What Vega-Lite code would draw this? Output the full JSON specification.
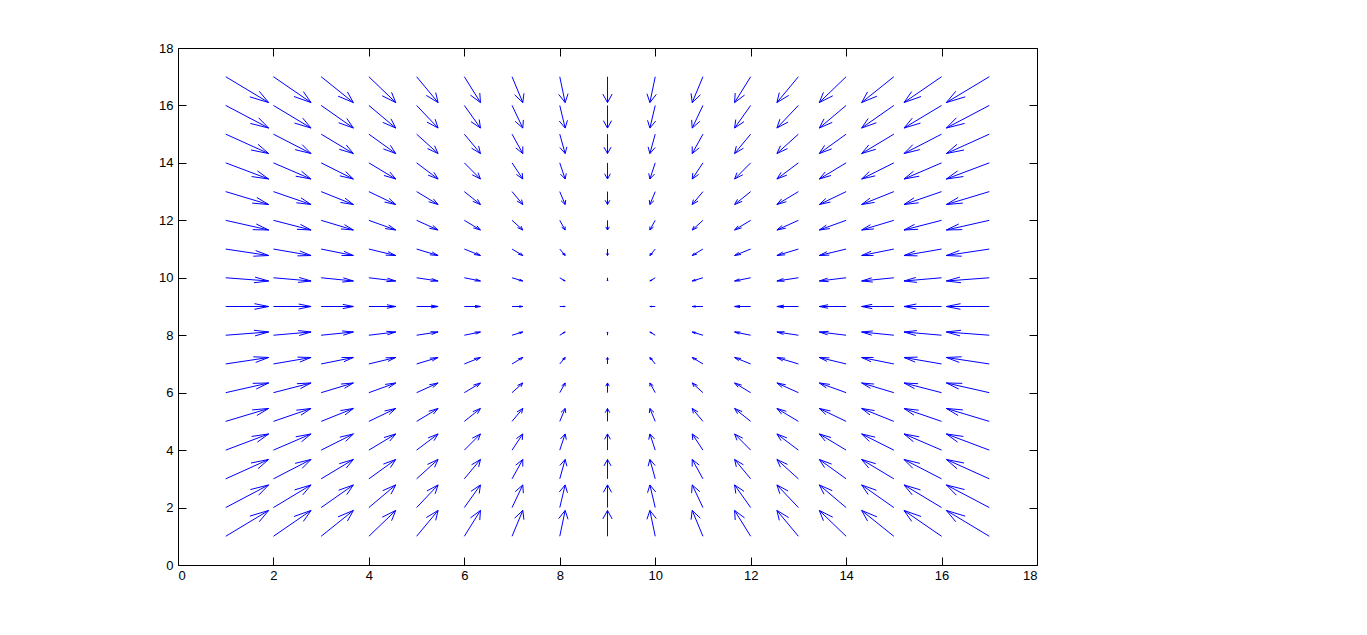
{
"$schema": "https://vega.github.io/schema/vega-lite/v6.json",
"width": 859, "height": 517,
"autosize": {"type": "none"},
"padding": {"left": 178, "top": 48, "right": 330, "bottom": 70},
"background": "white",
"config": {"view": {"stroke": null}, "font": "Liberation Sans",
 "axis": {"domainColor": "black", "domainWidth": 1, "tickColor": "black", "tickSize": -8, "tickWidth": 1, "labelColor": "black", "labelFont": "Liberation Sans", "labelFontSize": 13, "grid": false, "title": null},
 "axisX": {"labelPadding": 12}, "axisY": {"labelPadding": 13}},
"data": {"values": [
{"x":1,"y":1,"tx":1.9,"ty":1.9,"lx":1.505,"ly":1.701,"rx":1.701,"ry":1.505},
{"x":2,"y":1,"tx":2.788,"ty":1.9,"lx":2.43,"ly":1.689,"rx":2.626,"ry":1.517},
{"x":3,"y":1,"tx":3.675,"ty":1.9,"lx":3.354,"ly":1.677,"rx":3.55,"ry":1.529},
{"x":4,"y":1,"tx":4.563,"ty":1.9,"lx":4.279,"ly":1.664,"rx":4.475,"ry":1.542},
{"x":5,"y":1,"tx":5.45,"ty":1.9,"lx":5.204,"ly":1.652,"rx":5.4,"ry":1.554},
{"x":6,"y":1,"tx":6.338,"ty":1.9,"lx":6.128,"ly":1.64,"rx":6.324,"ry":1.566},
{"x":7,"y":1,"tx":7.225,"ty":1.9,"lx":7.053,"ly":1.628,"rx":7.249,"ry":1.578},
{"x":8,"y":1,"tx":8.113,"ty":1.9,"lx":7.977,"ly":1.615,"rx":8.173,"ry":1.591},
{"x":9,"y":1,"tx":9,"ty":1.9,"lx":8.902,"ly":1.603,"rx":9.098,"ry":1.603},
{"x":10,"y":1,"tx":9.888,"ty":1.9,"lx":9.827,"ly":1.591,"rx":10.023,"ry":1.615},
{"x":11,"y":1,"tx":10.775,"ty":1.9,"lx":10.751,"ly":1.578,"rx":10.947,"ry":1.628},
{"x":12,"y":1,"tx":11.663,"ty":1.9,"lx":11.676,"ly":1.566,"rx":11.872,"ry":1.64},
{"x":13,"y":1,"tx":12.55,"ty":1.9,"lx":12.6,"ly":1.554,"rx":12.796,"ry":1.652},
{"x":14,"y":1,"tx":13.438,"ty":1.9,"lx":13.525,"ly":1.542,"rx":13.721,"ry":1.664},
{"x":15,"y":1,"tx":14.325,"ty":1.9,"lx":14.45,"ly":1.529,"rx":14.646,"ry":1.677},
{"x":16,"y":1,"tx":15.213,"ty":1.9,"lx":15.374,"ly":1.517,"rx":15.57,"ry":1.689},
{"x":17,"y":1,"tx":16.1,"ty":1.9,"lx":16.299,"ly":1.505,"rx":16.495,"ry":1.701},
{"x":1,"y":2,"tx":1.9,"ty":2.788,"lx":1.517,"ly":2.626,"rx":1.689,"ry":2.43},
{"x":2,"y":2,"tx":2.788,"ty":2.788,"lx":2.442,"ly":2.614,"rx":2.614,"ry":2.442},
{"x":3,"y":2,"tx":3.675,"ty":2.788,"lx":3.366,"ly":2.602,"rx":3.538,"ry":2.454},
{"x":4,"y":2,"tx":4.563,"ty":2.788,"lx":4.291,"ly":2.589,"rx":4.463,"ry":2.467},
{"x":5,"y":2,"tx":5.45,"ty":2.788,"lx":5.216,"ly":2.577,"rx":5.388,"ry":2.479},
{"x":6,"y":2,"tx":6.338,"ty":2.788,"lx":6.14,"ly":2.565,"rx":6.312,"ry":2.491},
{"x":7,"y":2,"tx":7.225,"ty":2.788,"lx":7.065,"ly":2.553,"rx":7.237,"ry":2.503},
{"x":8,"y":2,"tx":8.113,"ty":2.788,"lx":7.989,"ly":2.54,"rx":8.161,"ry":2.516},
{"x":9,"y":2,"tx":9,"ty":2.788,"lx":8.914,"ly":2.528,"rx":9.086,"ry":2.528},
{"x":10,"y":2,"tx":9.888,"ty":2.788,"lx":9.839,"ly":2.516,"rx":10.011,"ry":2.54},
{"x":11,"y":2,"tx":10.775,"ty":2.788,"lx":10.763,"ly":2.503,"rx":10.935,"ry":2.553},
{"x":12,"y":2,"tx":11.663,"ty":2.788,"lx":11.688,"ly":2.491,"rx":11.86,"ry":2.565},
{"x":13,"y":2,"tx":12.55,"ty":2.788,"lx":12.612,"ly":2.479,"rx":12.784,"ry":2.577},
{"x":14,"y":2,"tx":13.438,"ty":2.788,"lx":13.537,"ly":2.467,"rx":13.709,"ry":2.589},
{"x":15,"y":2,"tx":14.325,"ty":2.788,"lx":14.462,"ly":2.454,"rx":14.634,"ry":2.602},
{"x":16,"y":2,"tx":15.213,"ty":2.788,"lx":15.386,"ly":2.442,"rx":15.558,"ry":2.614},
{"x":17,"y":2,"tx":16.1,"ty":2.788,"lx":16.311,"ly":2.43,"rx":16.483,"ry":2.626},
{"x":1,"y":3,"tx":1.9,"ty":3.675,"lx":1.529,"ly":3.55,"rx":1.677,"ry":3.354},
{"x":2,"y":3,"tx":2.788,"ty":3.675,"lx":2.454,"ly":3.538,"rx":2.602,"ry":3.366},
{"x":3,"y":3,"tx":3.675,"ty":3.675,"lx":3.378,"ly":3.526,"rx":3.526,"ry":3.378},
{"x":4,"y":3,"tx":4.563,"ty":3.675,"lx":4.303,"ly":3.513,"rx":4.451,"ry":3.391},
{"x":5,"y":3,"tx":5.45,"ty":3.675,"lx":5.228,"ly":3.501,"rx":5.376,"ry":3.403},
{"x":6,"y":3,"tx":6.338,"ty":3.675,"lx":6.152,"ly":3.489,"rx":6.3,"ry":3.415},
{"x":7,"y":3,"tx":7.225,"ty":3.675,"lx":7.077,"ly":3.477,"rx":7.225,"ry":3.427},
{"x":8,"y":3,"tx":8.113,"ty":3.675,"lx":8.001,"ly":3.464,"rx":8.149,"ry":3.44},
{"x":9,"y":3,"tx":9,"ty":3.675,"lx":8.926,"ly":3.452,"rx":9.074,"ry":3.452},
{"x":10,"y":3,"tx":9.888,"ty":3.675,"lx":9.851,"ly":3.44,"rx":9.999,"ry":3.464},
{"x":11,"y":3,"tx":10.775,"ty":3.675,"lx":10.775,"ly":3.427,"rx":10.923,"ry":3.477},
{"x":12,"y":3,"tx":11.663,"ty":3.675,"lx":11.7,"ly":3.415,"rx":11.848,"ry":3.489},
{"x":13,"y":3,"tx":12.55,"ty":3.675,"lx":12.624,"ly":3.403,"rx":12.772,"ry":3.501},
{"x":14,"y":3,"tx":13.438,"ty":3.675,"lx":13.549,"ly":3.391,"rx":13.697,"ry":3.513},
{"x":15,"y":3,"tx":14.325,"ty":3.675,"lx":14.474,"ly":3.378,"rx":14.622,"ry":3.526},
{"x":16,"y":3,"tx":15.213,"ty":3.675,"lx":15.398,"ly":3.366,"rx":15.546,"ry":3.538},
{"x":17,"y":3,"tx":16.1,"ty":3.675,"lx":16.323,"ly":3.354,"rx":16.471,"ry":3.55},
{"x":1,"y":4,"tx":1.9,"ty":4.563,"lx":1.542,"ly":4.475,"rx":1.664,"ry":4.279},
{"x":2,"y":4,"tx":2.788,"ty":4.563,"lx":2.467,"ly":4.463,"rx":2.589,"ry":4.291},
{"x":3,"y":4,"tx":3.675,"ty":4.563,"lx":3.391,"ly":4.451,"rx":3.513,"ry":4.303},
{"x":4,"y":4,"tx":4.563,"ty":4.563,"lx":4.316,"ly":4.438,"rx":4.438,"ry":4.316},
{"x":5,"y":4,"tx":5.45,"ty":4.563,"lx":5.241,"ly":4.426,"rx":5.363,"ry":4.328},
{"x":6,"y":4,"tx":6.338,"ty":4.563,"lx":6.165,"ly":4.414,"rx":6.287,"ry":4.34},
{"x":7,"y":4,"tx":7.225,"ty":4.563,"lx":7.09,"ly":4.402,"rx":7.212,"ry":4.352},
{"x":8,"y":4,"tx":8.113,"ty":4.563,"lx":8.014,"ly":4.389,"rx":8.136,"ry":4.365},
{"x":9,"y":4,"tx":9,"ty":4.563,"lx":8.939,"ly":4.377,"rx":9.061,"ry":4.377},
{"x":10,"y":4,"tx":9.888,"ty":4.563,"lx":9.864,"ly":4.365,"rx":9.986,"ry":4.389},
{"x":11,"y":4,"tx":10.775,"ty":4.563,"lx":10.788,"ly":4.352,"rx":10.91,"ry":4.402},
{"x":12,"y":4,"tx":11.663,"ty":4.563,"lx":11.713,"ly":4.34,"rx":11.835,"ry":4.414},
{"x":13,"y":4,"tx":12.55,"ty":4.563,"lx":12.637,"ly":4.328,"rx":12.759,"ry":4.426},
{"x":14,"y":4,"tx":13.438,"ty":4.563,"lx":13.562,"ly":4.316,"rx":13.684,"ry":4.438},
{"x":15,"y":4,"tx":14.325,"ty":4.563,"lx":14.487,"ly":4.303,"rx":14.609,"ry":4.451},
{"x":16,"y":4,"tx":15.213,"ty":4.563,"lx":15.411,"ly":4.291,"rx":15.533,"ry":4.463},
{"x":17,"y":4,"tx":16.1,"ty":4.563,"lx":16.336,"ly":4.279,"rx":16.458,"ry":4.475},
{"x":1,"y":5,"tx":1.9,"ty":5.45,"lx":1.554,"ly":5.4,"rx":1.652,"ry":5.204},
{"x":2,"y":5,"tx":2.788,"ty":5.45,"lx":2.479,"ly":5.388,"rx":2.577,"ry":5.216},
{"x":3,"y":5,"tx":3.675,"ty":5.45,"lx":3.403,"ly":5.376,"rx":3.501,"ry":5.228},
{"x":4,"y":5,"tx":4.563,"ty":5.45,"lx":4.328,"ly":5.363,"rx":4.426,"ry":5.241},
{"x":5,"y":5,"tx":5.45,"ty":5.45,"lx":5.253,"ly":5.351,"rx":5.351,"ry":5.253},
{"x":6,"y":5,"tx":6.338,"ty":5.45,"lx":6.177,"ly":5.339,"rx":6.275,"ry":5.265},
{"x":7,"y":5,"tx":7.225,"ty":5.45,"lx":7.102,"ly":5.327,"rx":7.2,"ry":5.277},
{"x":8,"y":5,"tx":8.113,"ty":5.45,"lx":8.026,"ly":5.314,"rx":8.124,"ry":5.29},
{"x":9,"y":5,"tx":9,"ty":5.45,"lx":8.951,"ly":5.302,"rx":9.049,"ry":5.302},
{"x":10,"y":5,"tx":9.888,"ty":5.45,"lx":9.876,"ly":5.29,"rx":9.974,"ry":5.314},
{"x":11,"y":5,"tx":10.775,"ty":5.45,"lx":10.8,"ly":5.277,"rx":10.898,"ry":5.327},
{"x":12,"y":5,"tx":11.663,"ty":5.45,"lx":11.725,"ly":5.265,"rx":11.823,"ry":5.339},
{"x":13,"y":5,"tx":12.55,"ty":5.45,"lx":12.649,"ly":5.253,"rx":12.747,"ry":5.351},
{"x":14,"y":5,"tx":13.438,"ty":5.45,"lx":13.574,"ly":5.241,"rx":13.672,"ry":5.363},
{"x":15,"y":5,"tx":14.325,"ty":5.45,"lx":14.499,"ly":5.228,"rx":14.597,"ry":5.376},
{"x":16,"y":5,"tx":15.213,"ty":5.45,"lx":15.423,"ly":5.216,"rx":15.521,"ry":5.388},
{"x":17,"y":5,"tx":16.1,"ty":5.45,"lx":16.348,"ly":5.204,"rx":16.446,"ry":5.4},
{"x":1,"y":6,"tx":1.9,"ty":6.338,"lx":1.566,"ly":6.324,"rx":1.64,"ry":6.128},
{"x":2,"y":6,"tx":2.788,"ty":6.338,"lx":2.491,"ly":6.312,"rx":2.565,"ry":6.14},
{"x":3,"y":6,"tx":3.675,"ty":6.338,"lx":3.415,"ly":6.3,"rx":3.489,"ry":6.152},
{"x":4,"y":6,"tx":4.563,"ty":6.338,"lx":4.34,"ly":6.287,"rx":4.414,"ry":6.165},
{"x":5,"y":6,"tx":5.45,"ty":6.338,"lx":5.265,"ly":6.275,"rx":5.339,"ry":6.177},
{"x":6,"y":6,"tx":6.338,"ty":6.338,"lx":6.189,"ly":6.263,"rx":6.263,"ry":6.189},
{"x":7,"y":6,"tx":7.225,"ty":6.338,"lx":7.114,"ly":6.251,"rx":7.188,"ry":6.201},
{"x":8,"y":6,"tx":8.113,"ty":6.338,"lx":8.038,"ly":6.238,"rx":8.112,"ry":6.214},
{"x":9,"y":6,"tx":9,"ty":6.338,"lx":8.963,"ly":6.226,"rx":9.037,"ry":6.226},
{"x":10,"y":6,"tx":9.888,"ty":6.338,"lx":9.888,"ly":6.214,"rx":9.962,"ry":6.238},
{"x":11,"y":6,"tx":10.775,"ty":6.338,"lx":10.812,"ly":6.201,"rx":10.886,"ry":6.251},
{"x":12,"y":6,"tx":11.663,"ty":6.338,"lx":11.737,"ly":6.189,"rx":11.811,"ry":6.263},
{"x":13,"y":6,"tx":12.55,"ty":6.338,"lx":12.661,"ly":6.177,"rx":12.735,"ry":6.275},
{"x":14,"y":6,"tx":13.438,"ty":6.338,"lx":13.586,"ly":6.165,"rx":13.66,"ry":6.287},
{"x":15,"y":6,"tx":14.325,"ty":6.338,"lx":14.511,"ly":6.152,"rx":14.585,"ry":6.3},
{"x":16,"y":6,"tx":15.213,"ty":6.338,"lx":15.435,"ly":6.14,"rx":15.509,"ry":6.312},
{"x":17,"y":6,"tx":16.1,"ty":6.338,"lx":16.36,"ly":6.128,"rx":16.434,"ry":6.324},
{"x":1,"y":7,"tx":1.9,"ty":7.225,"lx":1.578,"ly":7.249,"rx":1.628,"ry":7.053},
{"x":2,"y":7,"tx":2.788,"ty":7.225,"lx":2.503,"ly":7.237,"rx":2.553,"ry":7.065},
{"x":3,"y":7,"tx":3.675,"ty":7.225,"lx":3.427,"ly":7.225,"rx":3.477,"ry":7.077},
{"x":4,"y":7,"tx":4.563,"ty":7.225,"lx":4.352,"ly":7.212,"rx":4.402,"ry":7.09},
{"x":5,"y":7,"tx":5.45,"ty":7.225,"lx":5.277,"ly":7.2,"rx":5.327,"ry":7.102},
{"x":6,"y":7,"tx":6.338,"ty":7.225,"lx":6.201,"ly":7.188,"rx":6.251,"ry":7.114},
{"x":7,"y":7,"tx":7.225,"ty":7.225,"lx":7.126,"ly":7.176,"rx":7.176,"ry":7.126},
{"x":8,"y":7,"tx":8.113,"ty":7.225,"lx":8.05,"ly":7.163,"rx":8.1,"ry":7.139},
{"x":9,"y":7,"tx":9,"ty":7.225,"lx":8.975,"ly":7.151,"rx":9.025,"ry":7.151},
{"x":10,"y":7,"tx":9.888,"ty":7.225,"lx":9.9,"ly":7.139,"rx":9.95,"ry":7.163},
{"x":11,"y":7,"tx":10.775,"ty":7.225,"lx":10.824,"ly":7.126,"rx":10.874,"ry":7.176},
{"x":12,"y":7,"tx":11.663,"ty":7.225,"lx":11.749,"ly":7.114,"rx":11.799,"ry":7.188},
{"x":13,"y":7,"tx":12.55,"ty":7.225,"lx":12.673,"ly":7.102,"rx":12.723,"ry":7.2},
{"x":14,"y":7,"tx":13.438,"ty":7.225,"lx":13.598,"ly":7.09,"rx":13.648,"ry":7.212},
{"x":15,"y":7,"tx":14.325,"ty":7.225,"lx":14.523,"ly":7.077,"rx":14.573,"ry":7.225},
{"x":16,"y":7,"tx":15.213,"ty":7.225,"lx":15.447,"ly":7.065,"rx":15.497,"ry":7.237},
{"x":17,"y":7,"tx":16.1,"ty":7.225,"lx":16.372,"ly":7.053,"rx":16.422,"ry":7.249},
{"x":1,"y":8,"tx":1.9,"ty":8.113,"lx":1.591,"ly":8.173,"rx":1.615,"ry":7.977},
{"x":2,"y":8,"tx":2.788,"ty":8.113,"lx":2.516,"ly":8.161,"rx":2.54,"ry":7.989},
{"x":3,"y":8,"tx":3.675,"ty":8.113,"lx":3.44,"ly":8.149,"rx":3.464,"ry":8.001},
{"x":4,"y":8,"tx":4.563,"ty":8.113,"lx":4.365,"ly":8.136,"rx":4.389,"ry":8.014},
{"x":5,"y":8,"tx":5.45,"ty":8.113,"lx":5.29,"ly":8.124,"rx":5.314,"ry":8.026},
{"x":6,"y":8,"tx":6.338,"ty":8.113,"lx":6.214,"ly":8.112,"rx":6.238,"ry":8.038},
{"x":7,"y":8,"tx":7.225,"ty":8.113,"lx":7.139,"ly":8.1,"rx":7.163,"ry":8.05},
{"x":8,"y":8,"tx":8.113,"ty":8.113,"lx":8.063,"ly":8.087,"rx":8.087,"ry":8.063},
{"x":9,"y":8,"tx":9,"ty":8.113,"lx":8.988,"ly":8.075,"rx":9.012,"ry":8.075},
{"x":10,"y":8,"tx":9.888,"ty":8.113,"lx":9.913,"ly":8.063,"rx":9.937,"ry":8.087},
{"x":11,"y":8,"tx":10.775,"ty":8.113,"lx":10.837,"ly":8.05,"rx":10.861,"ry":8.1},
{"x":12,"y":8,"tx":11.663,"ty":8.113,"lx":11.762,"ly":8.038,"rx":11.786,"ry":8.112},
{"x":13,"y":8,"tx":12.55,"ty":8.113,"lx":12.686,"ly":8.026,"rx":12.71,"ry":8.124},
{"x":14,"y":8,"tx":13.438,"ty":8.113,"lx":13.611,"ly":8.014,"rx":13.635,"ry":8.136},
{"x":15,"y":8,"tx":14.325,"ty":8.113,"lx":14.536,"ly":8.001,"rx":14.56,"ry":8.149},
{"x":16,"y":8,"tx":15.213,"ty":8.113,"lx":15.46,"ly":7.989,"rx":15.484,"ry":8.161},
{"x":17,"y":8,"tx":16.1,"ty":8.113,"lx":16.385,"ly":7.977,"rx":16.409,"ry":8.173},
{"x":1,"y":9,"tx":1.9,"ty":9,"lx":1.603,"ly":9.098,"rx":1.603,"ry":8.902},
{"x":2,"y":9,"tx":2.788,"ty":9,"lx":2.528,"ly":9.086,"rx":2.528,"ry":8.914},
{"x":3,"y":9,"tx":3.675,"ty":9,"lx":3.452,"ly":9.074,"rx":3.452,"ry":8.926},
{"x":4,"y":9,"tx":4.563,"ty":9,"lx":4.377,"ly":9.061,"rx":4.377,"ry":8.939},
{"x":5,"y":9,"tx":5.45,"ty":9,"lx":5.302,"ly":9.049,"rx":5.302,"ry":8.951},
{"x":6,"y":9,"tx":6.338,"ty":9,"lx":6.226,"ly":9.037,"rx":6.226,"ry":8.963},
{"x":7,"y":9,"tx":7.225,"ty":9,"lx":7.151,"ly":9.025,"rx":7.151,"ry":8.975},
{"x":8,"y":9,"tx":8.113,"ty":9,"lx":8.075,"ly":9.012,"rx":8.075,"ry":8.988},
{"x":9,"y":9,"tx":9,"ty":9,"lx":9,"ly":9,"rx":9,"ry":9},
{"x":10,"y":9,"tx":9.888,"ty":9,"lx":9.925,"ly":8.988,"rx":9.925,"ry":9.012},
{"x":11,"y":9,"tx":10.775,"ty":9,"lx":10.849,"ly":8.975,"rx":10.849,"ry":9.025},
{"x":12,"y":9,"tx":11.663,"ty":9,"lx":11.774,"ly":8.963,"rx":11.774,"ry":9.037},
{"x":13,"y":9,"tx":12.55,"ty":9,"lx":12.698,"ly":8.951,"rx":12.698,"ry":9.049},
{"x":14,"y":9,"tx":13.438,"ty":9,"lx":13.623,"ly":8.939,"rx":13.623,"ry":9.061},
{"x":15,"y":9,"tx":14.325,"ty":9,"lx":14.548,"ly":8.926,"rx":14.548,"ry":9.074},
{"x":16,"y":9,"tx":15.213,"ty":9,"lx":15.472,"ly":8.914,"rx":15.472,"ry":9.086},
{"x":17,"y":9,"tx":16.1,"ty":9,"lx":16.397,"ly":8.902,"rx":16.397,"ry":9.098},
{"x":1,"y":10,"tx":1.9,"ty":9.888,"lx":1.615,"ly":10.023,"rx":1.591,"ry":9.827},
{"x":2,"y":10,"tx":2.788,"ty":9.888,"lx":2.54,"ly":10.011,"rx":2.516,"ry":9.839},
{"x":3,"y":10,"tx":3.675,"ty":9.888,"lx":3.464,"ly":9.999,"rx":3.44,"ry":9.851},
{"x":4,"y":10,"tx":4.563,"ty":9.888,"lx":4.389,"ly":9.986,"rx":4.365,"ry":9.864},
{"x":5,"y":10,"tx":5.45,"ty":9.888,"lx":5.314,"ly":9.974,"rx":5.29,"ry":9.876},
{"x":6,"y":10,"tx":6.338,"ty":9.888,"lx":6.238,"ly":9.962,"rx":6.214,"ry":9.888},
{"x":7,"y":10,"tx":7.225,"ty":9.888,"lx":7.163,"ly":9.95,"rx":7.139,"ry":9.9},
{"x":8,"y":10,"tx":8.113,"ty":9.888,"lx":8.087,"ly":9.937,"rx":8.063,"ry":9.913},
{"x":9,"y":10,"tx":9,"ty":9.888,"lx":9.012,"ly":9.925,"rx":8.988,"ry":9.925},
{"x":10,"y":10,"tx":9.888,"ty":9.888,"lx":9.937,"ly":9.913,"rx":9.913,"ry":9.937},
{"x":11,"y":10,"tx":10.775,"ty":9.888,"lx":10.861,"ly":9.9,"rx":10.837,"ry":9.95},
{"x":12,"y":10,"tx":11.663,"ty":9.888,"lx":11.786,"ly":9.888,"rx":11.762,"ry":9.962},
{"x":13,"y":10,"tx":12.55,"ty":9.888,"lx":12.71,"ly":9.876,"rx":12.686,"ry":9.974},
{"x":14,"y":10,"tx":13.438,"ty":9.888,"lx":13.635,"ly":9.864,"rx":13.611,"ry":9.986},
{"x":15,"y":10,"tx":14.325,"ty":9.888,"lx":14.56,"ly":9.851,"rx":14.536,"ry":9.999},
{"x":16,"y":10,"tx":15.213,"ty":9.888,"lx":15.484,"ly":9.839,"rx":15.46,"ry":10.011},
{"x":17,"y":10,"tx":16.1,"ty":9.888,"lx":16.409,"ly":9.827,"rx":16.385,"ry":10.023},
{"x":1,"y":11,"tx":1.9,"ty":10.775,"lx":1.628,"ly":10.947,"rx":1.578,"ry":10.751},
{"x":2,"y":11,"tx":2.788,"ty":10.775,"lx":2.553,"ly":10.935,"rx":2.503,"ry":10.763},
{"x":3,"y":11,"tx":3.675,"ty":10.775,"lx":3.477,"ly":10.923,"rx":3.427,"ry":10.775},
{"x":4,"y":11,"tx":4.563,"ty":10.775,"lx":4.402,"ly":10.91,"rx":4.352,"ry":10.788},
{"x":5,"y":11,"tx":5.45,"ty":10.775,"lx":5.327,"ly":10.898,"rx":5.277,"ry":10.8},
{"x":6,"y":11,"tx":6.338,"ty":10.775,"lx":6.251,"ly":10.886,"rx":6.201,"ry":10.812},
{"x":7,"y":11,"tx":7.225,"ty":10.775,"lx":7.176,"ly":10.874,"rx":7.126,"ry":10.824},
{"x":8,"y":11,"tx":8.113,"ty":10.775,"lx":8.1,"ly":10.861,"rx":8.05,"ry":10.837},
{"x":9,"y":11,"tx":9,"ty":10.775,"lx":9.025,"ly":10.849,"rx":8.975,"ry":10.849},
{"x":10,"y":11,"tx":9.888,"ty":10.775,"lx":9.95,"ly":10.837,"rx":9.9,"ry":10.861},
{"x":11,"y":11,"tx":10.775,"ty":10.775,"lx":10.874,"ly":10.824,"rx":10.824,"ry":10.874},
{"x":12,"y":11,"tx":11.663,"ty":10.775,"lx":11.799,"ly":10.812,"rx":11.749,"ry":10.886},
{"x":13,"y":11,"tx":12.55,"ty":10.775,"lx":12.723,"ly":10.8,"rx":12.673,"ry":10.898},
{"x":14,"y":11,"tx":13.438,"ty":10.775,"lx":13.648,"ly":10.788,"rx":13.598,"ry":10.91},
{"x":15,"y":11,"tx":14.325,"ty":10.775,"lx":14.573,"ly":10.775,"rx":14.523,"ry":10.923},
{"x":16,"y":11,"tx":15.213,"ty":10.775,"lx":15.497,"ly":10.763,"rx":15.447,"ry":10.935},
{"x":17,"y":11,"tx":16.1,"ty":10.775,"lx":16.422,"ly":10.751,"rx":16.372,"ry":10.947},
{"x":1,"y":12,"tx":1.9,"ty":11.663,"lx":1.64,"ly":11.872,"rx":1.566,"ry":11.676},
{"x":2,"y":12,"tx":2.788,"ty":11.663,"lx":2.565,"ly":11.86,"rx":2.491,"ry":11.688},
{"x":3,"y":12,"tx":3.675,"ty":11.663,"lx":3.489,"ly":11.848,"rx":3.415,"ry":11.7},
{"x":4,"y":12,"tx":4.563,"ty":11.663,"lx":4.414,"ly":11.835,"rx":4.34,"ry":11.713},
{"x":5,"y":12,"tx":5.45,"ty":11.663,"lx":5.339,"ly":11.823,"rx":5.265,"ry":11.725},
{"x":6,"y":12,"tx":6.338,"ty":11.663,"lx":6.263,"ly":11.811,"rx":6.189,"ry":11.737},
{"x":7,"y":12,"tx":7.225,"ty":11.663,"lx":7.188,"ly":11.799,"rx":7.114,"ry":11.749},
{"x":8,"y":12,"tx":8.113,"ty":11.663,"lx":8.112,"ly":11.786,"rx":8.038,"ry":11.762},
{"x":9,"y":12,"tx":9,"ty":11.663,"lx":9.037,"ly":11.774,"rx":8.963,"ry":11.774},
{"x":10,"y":12,"tx":9.888,"ty":11.663,"lx":9.962,"ly":11.762,"rx":9.888,"ry":11.786},
{"x":11,"y":12,"tx":10.775,"ty":11.663,"lx":10.886,"ly":11.749,"rx":10.812,"ry":11.799},
{"x":12,"y":12,"tx":11.663,"ty":11.663,"lx":11.811,"ly":11.737,"rx":11.737,"ry":11.811},
{"x":13,"y":12,"tx":12.55,"ty":11.663,"lx":12.735,"ly":11.725,"rx":12.661,"ry":11.823},
{"x":14,"y":12,"tx":13.438,"ty":11.663,"lx":13.66,"ly":11.713,"rx":13.586,"ry":11.835},
{"x":15,"y":12,"tx":14.325,"ty":11.663,"lx":14.585,"ly":11.7,"rx":14.511,"ry":11.848},
{"x":16,"y":12,"tx":15.213,"ty":11.663,"lx":15.509,"ly":11.688,"rx":15.435,"ry":11.86},
{"x":17,"y":12,"tx":16.1,"ty":11.663,"lx":16.434,"ly":11.676,"rx":16.36,"ry":11.872},
{"x":1,"y":13,"tx":1.9,"ty":12.55,"lx":1.652,"ly":12.796,"rx":1.554,"ry":12.6},
{"x":2,"y":13,"tx":2.788,"ty":12.55,"lx":2.577,"ly":12.784,"rx":2.479,"ry":12.612},
{"x":3,"y":13,"tx":3.675,"ty":12.55,"lx":3.501,"ly":12.772,"rx":3.403,"ry":12.624},
{"x":4,"y":13,"tx":4.563,"ty":12.55,"lx":4.426,"ly":12.759,"rx":4.328,"ry":12.637},
{"x":5,"y":13,"tx":5.45,"ty":12.55,"lx":5.351,"ly":12.747,"rx":5.253,"ry":12.649},
{"x":6,"y":13,"tx":6.338,"ty":12.55,"lx":6.275,"ly":12.735,"rx":6.177,"ry":12.661},
{"x":7,"y":13,"tx":7.225,"ty":12.55,"lx":7.2,"ly":12.723,"rx":7.102,"ry":12.673},
{"x":8,"y":13,"tx":8.113,"ty":12.55,"lx":8.124,"ly":12.71,"rx":8.026,"ry":12.686},
{"x":9,"y":13,"tx":9,"ty":12.55,"lx":9.049,"ly":12.698,"rx":8.951,"ry":12.698},
{"x":10,"y":13,"tx":9.888,"ty":12.55,"lx":9.974,"ly":12.686,"rx":9.876,"ry":12.71},
{"x":11,"y":13,"tx":10.775,"ty":12.55,"lx":10.898,"ly":12.673,"rx":10.8,"ry":12.723},
{"x":12,"y":13,"tx":11.663,"ty":12.55,"lx":11.823,"ly":12.661,"rx":11.725,"ry":12.735},
{"x":13,"y":13,"tx":12.55,"ty":12.55,"lx":12.747,"ly":12.649,"rx":12.649,"ry":12.747},
{"x":14,"y":13,"tx":13.438,"ty":12.55,"lx":13.672,"ly":12.637,"rx":13.574,"ry":12.759},
{"x":15,"y":13,"tx":14.325,"ty":12.55,"lx":14.597,"ly":12.624,"rx":14.499,"ry":12.772},
{"x":16,"y":13,"tx":15.213,"ty":12.55,"lx":15.521,"ly":12.612,"rx":15.423,"ry":12.784},
{"x":17,"y":13,"tx":16.1,"ty":12.55,"lx":16.446,"ly":12.6,"rx":16.348,"ry":12.796},
{"x":1,"y":14,"tx":1.9,"ty":13.438,"lx":1.664,"ly":13.721,"rx":1.542,"ry":13.525},
{"x":2,"y":14,"tx":2.788,"ty":13.438,"lx":2.589,"ly":13.709,"rx":2.467,"ry":13.537},
{"x":3,"y":14,"tx":3.675,"ty":13.438,"lx":3.513,"ly":13.697,"rx":3.391,"ry":13.549},
{"x":4,"y":14,"tx":4.563,"ty":13.438,"lx":4.438,"ly":13.684,"rx":4.316,"ry":13.562},
{"x":5,"y":14,"tx":5.45,"ty":13.438,"lx":5.363,"ly":13.672,"rx":5.241,"ry":13.574},
{"x":6,"y":14,"tx":6.338,"ty":13.438,"lx":6.287,"ly":13.66,"rx":6.165,"ry":13.586},
{"x":7,"y":14,"tx":7.225,"ty":13.438,"lx":7.212,"ly":13.648,"rx":7.09,"ry":13.598},
{"x":8,"y":14,"tx":8.113,"ty":13.438,"lx":8.136,"ly":13.635,"rx":8.014,"ry":13.611},
{"x":9,"y":14,"tx":9,"ty":13.438,"lx":9.061,"ly":13.623,"rx":8.939,"ry":13.623},
{"x":10,"y":14,"tx":9.888,"ty":13.438,"lx":9.986,"ly":13.611,"rx":9.864,"ry":13.635},
{"x":11,"y":14,"tx":10.775,"ty":13.438,"lx":10.91,"ly":13.598,"rx":10.788,"ry":13.648},
{"x":12,"y":14,"tx":11.663,"ty":13.438,"lx":11.835,"ly":13.586,"rx":11.713,"ry":13.66},
{"x":13,"y":14,"tx":12.55,"ty":13.438,"lx":12.759,"ly":13.574,"rx":12.637,"ry":13.672},
{"x":14,"y":14,"tx":13.438,"ty":13.438,"lx":13.684,"ly":13.562,"rx":13.562,"ry":13.684},
{"x":15,"y":14,"tx":14.325,"ty":13.438,"lx":14.609,"ly":13.549,"rx":14.487,"ry":13.697},
{"x":16,"y":14,"tx":15.213,"ty":13.438,"lx":15.533,"ly":13.537,"rx":15.411,"ry":13.709},
{"x":17,"y":14,"tx":16.1,"ty":13.438,"lx":16.458,"ly":13.525,"rx":16.336,"ry":13.721},
{"x":1,"y":15,"tx":1.9,"ty":14.325,"lx":1.677,"ly":14.646,"rx":1.529,"ry":14.45},
{"x":2,"y":15,"tx":2.788,"ty":14.325,"lx":2.602,"ly":14.634,"rx":2.454,"ry":14.462},
{"x":3,"y":15,"tx":3.675,"ty":14.325,"lx":3.526,"ly":14.622,"rx":3.378,"ry":14.474},
{"x":4,"y":15,"tx":4.563,"ty":14.325,"lx":4.451,"ly":14.609,"rx":4.303,"ry":14.487},
{"x":5,"y":15,"tx":5.45,"ty":14.325,"lx":5.376,"ly":14.597,"rx":5.228,"ry":14.499},
{"x":6,"y":15,"tx":6.338,"ty":14.325,"lx":6.3,"ly":14.585,"rx":6.152,"ry":14.511},
{"x":7,"y":15,"tx":7.225,"ty":14.325,"lx":7.225,"ly":14.573,"rx":7.077,"ry":14.523},
{"x":8,"y":15,"tx":8.113,"ty":14.325,"lx":8.149,"ly":14.56,"rx":8.001,"ry":14.536},
{"x":9,"y":15,"tx":9,"ty":14.325,"lx":9.074,"ly":14.548,"rx":8.926,"ry":14.548},
{"x":10,"y":15,"tx":9.888,"ty":14.325,"lx":9.999,"ly":14.536,"rx":9.851,"ry":14.56},
{"x":11,"y":15,"tx":10.775,"ty":14.325,"lx":10.923,"ly":14.523,"rx":10.775,"ry":14.573},
{"x":12,"y":15,"tx":11.663,"ty":14.325,"lx":11.848,"ly":14.511,"rx":11.7,"ry":14.585},
{"x":13,"y":15,"tx":12.55,"ty":14.325,"lx":12.772,"ly":14.499,"rx":12.624,"ry":14.597},
{"x":14,"y":15,"tx":13.438,"ty":14.325,"lx":13.697,"ly":14.487,"rx":13.549,"ry":14.609},
{"x":15,"y":15,"tx":14.325,"ty":14.325,"lx":14.622,"ly":14.474,"rx":14.474,"ry":14.622},
{"x":16,"y":15,"tx":15.213,"ty":14.325,"lx":15.546,"ly":14.462,"rx":15.398,"ry":14.634},
{"x":17,"y":15,"tx":16.1,"ty":14.325,"lx":16.471,"ly":14.45,"rx":16.323,"ry":14.646},
{"x":1,"y":16,"tx":1.9,"ty":15.213,"lx":1.689,"ly":15.57,"rx":1.517,"ry":15.374},
{"x":2,"y":16,"tx":2.788,"ty":15.213,"lx":2.614,"ly":15.558,"rx":2.442,"ry":15.386},
{"x":3,"y":16,"tx":3.675,"ty":15.213,"lx":3.538,"ly":15.546,"rx":3.366,"ry":15.398},
{"x":4,"y":16,"tx":4.563,"ty":15.213,"lx":4.463,"ly":15.533,"rx":4.291,"ry":15.411},
{"x":5,"y":16,"tx":5.45,"ty":15.213,"lx":5.388,"ly":15.521,"rx":5.216,"ry":15.423},
{"x":6,"y":16,"tx":6.338,"ty":15.213,"lx":6.312,"ly":15.509,"rx":6.14,"ry":15.435},
{"x":7,"y":16,"tx":7.225,"ty":15.213,"lx":7.237,"ly":15.497,"rx":7.065,"ry":15.447},
{"x":8,"y":16,"tx":8.113,"ty":15.213,"lx":8.161,"ly":15.484,"rx":7.989,"ry":15.46},
{"x":9,"y":16,"tx":9,"ty":15.213,"lx":9.086,"ly":15.472,"rx":8.914,"ry":15.472},
{"x":10,"y":16,"tx":9.888,"ty":15.213,"lx":10.011,"ly":15.46,"rx":9.839,"ry":15.484},
{"x":11,"y":16,"tx":10.775,"ty":15.213,"lx":10.935,"ly":15.447,"rx":10.763,"ry":15.497},
{"x":12,"y":16,"tx":11.663,"ty":15.213,"lx":11.86,"ly":15.435,"rx":11.688,"ry":15.509},
{"x":13,"y":16,"tx":12.55,"ty":15.213,"lx":12.784,"ly":15.423,"rx":12.612,"ry":15.521},
{"x":14,"y":16,"tx":13.438,"ty":15.213,"lx":13.709,"ly":15.411,"rx":13.537,"ry":15.533},
{"x":15,"y":16,"tx":14.325,"ty":15.213,"lx":14.634,"ly":15.398,"rx":14.462,"ry":15.546},
{"x":16,"y":16,"tx":15.213,"ty":15.213,"lx":15.558,"ly":15.386,"rx":15.386,"ry":15.558},
{"x":17,"y":16,"tx":16.1,"ty":15.213,"lx":16.483,"ly":15.374,"rx":16.311,"ry":15.57},
{"x":1,"y":17,"tx":1.9,"ty":16.1,"lx":1.701,"ly":16.495,"rx":1.505,"ry":16.299},
{"x":2,"y":17,"tx":2.788,"ty":16.1,"lx":2.626,"ly":16.483,"rx":2.43,"ry":16.311},
{"x":3,"y":17,"tx":3.675,"ty":16.1,"lx":3.55,"ly":16.471,"rx":3.354,"ry":16.323},
{"x":4,"y":17,"tx":4.563,"ty":16.1,"lx":4.475,"ly":16.458,"rx":4.279,"ry":16.336},
{"x":5,"y":17,"tx":5.45,"ty":16.1,"lx":5.4,"ly":16.446,"rx":5.204,"ry":16.348},
{"x":6,"y":17,"tx":6.338,"ty":16.1,"lx":6.324,"ly":16.434,"rx":6.128,"ry":16.36},
{"x":7,"y":17,"tx":7.225,"ty":16.1,"lx":7.249,"ly":16.422,"rx":7.053,"ry":16.372},
{"x":8,"y":17,"tx":8.113,"ty":16.1,"lx":8.173,"ly":16.409,"rx":7.977,"ry":16.385},
{"x":9,"y":17,"tx":9,"ty":16.1,"lx":9.098,"ly":16.397,"rx":8.902,"ry":16.397},
{"x":10,"y":17,"tx":9.888,"ty":16.1,"lx":10.023,"ly":16.385,"rx":9.827,"ry":16.409},
{"x":11,"y":17,"tx":10.775,"ty":16.1,"lx":10.947,"ly":16.372,"rx":10.751,"ry":16.422},
{"x":12,"y":17,"tx":11.663,"ty":16.1,"lx":11.872,"ly":16.36,"rx":11.676,"ry":16.434},
{"x":13,"y":17,"tx":12.55,"ty":16.1,"lx":12.796,"ly":16.348,"rx":12.6,"ry":16.446},
{"x":14,"y":17,"tx":13.438,"ty":16.1,"lx":13.721,"ly":16.336,"rx":13.525,"ry":16.458},
{"x":15,"y":17,"tx":14.325,"ty":16.1,"lx":14.646,"ly":16.323,"rx":14.45,"ry":16.471},
{"x":16,"y":17,"tx":15.213,"ty":16.1,"lx":15.57,"ly":16.311,"rx":15.374,"ry":16.483},
{"x":17,"y":17,"tx":16.1,"ty":16.1,"lx":16.495,"ly":16.299,"rx":16.299,"ry":16.495}
]},
"layer": [
 {"mark": {"type": "rule", "color": "#0000ff", "strokeWidth": 1},
  "encoding": {
   "x": {"field": "x", "type": "quantitative", "scale": {"domain": [0, 18], "nice": false, "zero": false}, "axis": {"orient": "bottom", "values": [0,2,4,6,8,10,12,14,16,18], "format": "d"}},
   "y": {"field": "y", "type": "quantitative", "scale": {"domain": [0, 18], "nice": false, "zero": false}, "axis": {"orient": "left", "values": [0,2,4,6,8,10,12,14,16,18], "format": "d"}},
   "x2": {"field": "tx"}, "y2": {"field": "ty"}}},
 {"mark": {"type": "rule", "color": "#0000ff", "strokeWidth": 1},
  "encoding": {
   "x": {"field": "lx", "type": "quantitative", "scale": {"domain": [0, 18], "nice": false, "zero": false}, "axis": {"orient": "top", "values": [0,2,4,6,8,10,12,14,16,18], "labels": false}},
   "y": {"field": "ly", "type": "quantitative", "scale": {"domain": [0, 18], "nice": false, "zero": false}, "axis": {"orient": "right", "values": [0,2,4,6,8,10,12,14,16,18], "labels": false}},
   "x2": {"field": "tx"}, "y2": {"field": "ty"}}},
 {"mark": {"type": "rule", "color": "#0000ff", "strokeWidth": 1},
  "encoding": {
   "x": {"field": "rx", "type": "quantitative", "scale": {"domain": [0, 18], "nice": false, "zero": false}, "axis": null},
   "y": {"field": "ry", "type": "quantitative", "scale": {"domain": [0, 18], "nice": false, "zero": false}, "axis": null},
   "x2": {"field": "tx"}, "y2": {"field": "ty"}}}
],
"resolve": {"axis": {"x": "independent", "y": "independent"}}
}
